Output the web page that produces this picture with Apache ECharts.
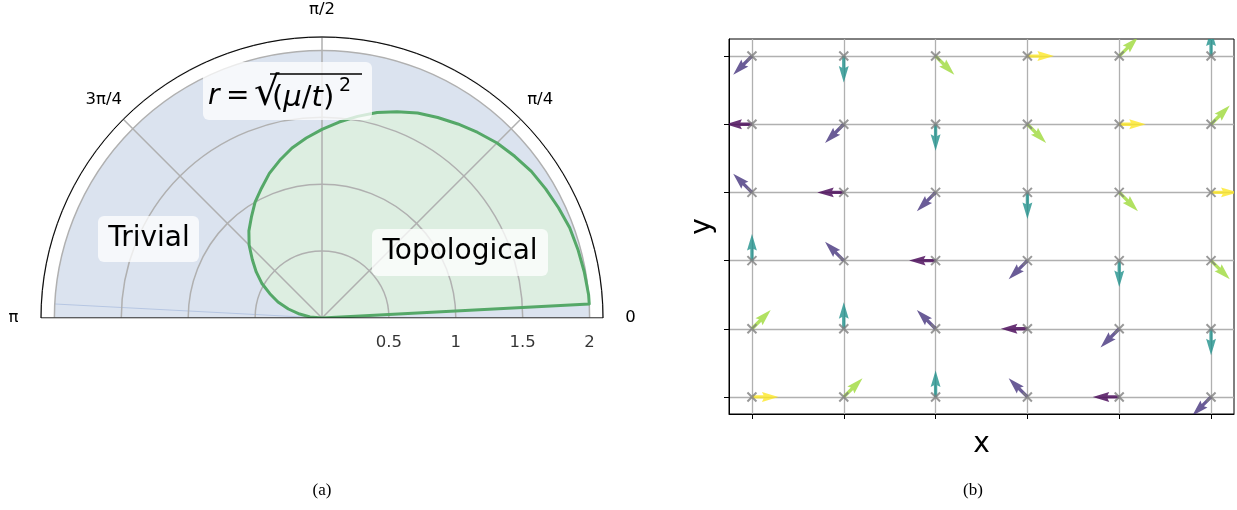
<!DOCTYPE html>
<html><head><meta charset="utf-8">
<script src="https://cdn.jsdelivr.net/npm/echarts@6/dist/echarts.min.js"></script>
<style>html,body{margin:0;padding:0;background:#fff}#c{width:1237px;height:510px}</style>
</head><body><div id="c"></div>
<script>
// ---------- Panel (a): polar phase diagram ----------
const angleTicks = [0, 45, 90, 135, 180];
const angleTickLabels = ['0', 'π/4', 'π/2', '3π/4', 'π'];
const radiusTicks = [0.5, 1, 1.5, 2];
const radiusTickLabels = ['0.5', '1', '1.5', '2'];
const radiusMax = 2.1;
const trivialRadius = [2];
// boundary of the topological region (angle in degrees, radius)
const boundaryAngles = [3, 3, 5, 10, 15, 20, 25, 30, 35, 40, 45, 50, 55, 60, 65, 70, 75, 80, 85, 90,
  95, 100, 105, 110, 115, 120, 125, 130, 135, 140, 145, 150, 155, 160, 165, 170, 175, 180];
const boundaryRadii = [0, 2.00, 2.00, 1.99, 1.98, 1.97, 1.95, 1.93, 1.91, 1.88, 1.85, 1.81, 1.77, 1.73, 1.69, 1.64, 1.59, 1.53, 1.47, 1.41,
  1.35, 1.29, 1.22, 1.15, 1.07, 1.00, 0.92, 0.85, 0.77, 0.68, 0.60, 0.52, 0.43, 0.35, 0.26, 0.17, 0.09, 0];
const faintEdgeAngles = [177, 177];
const faintEdgeRadii = [2, 0];

// ---------- Panel (b): quiver ----------
const gridX = [0, 1, 2, 3, 4, 5];
const gridY = [0, 1, 2, 3, 4, 5];
// arrow direction (degrees), rows from bottom (y=0) to top (y=5)
const arrowAngles = [
  [0, 45, 90, 135, 180, 225],
  [45, 90, 135, 180, 225, 270],
  [90, 135, 180, 225, 270, 315],
  [135, 180, 225, 270, 315, 0],
  [180, 225, 270, 315, 0, 45],
  [225, 270, 315, 0, 45, 90]
];

const colorByAngle = {0:'#fde725',45:'#9ed93a',90:'#21918c',135:'#45337d',180:'#440154',225:'#45337d',270:'#21918c',315:'#9ed93a'};
const FONT = 'DejaVu Sans';
const TICK_FS = 16.5;
const labelRadius = radiusMax * 1.098;

const boundaryData = boundaryAngles.map((a, i) => [boundaryRadii[i], a]);
const quiverData = [];
gridY.forEach((y, j) => gridX.forEach((x, i) => quiverData.push([x, y, arrowAngles[j][i]])));
const markerData = [];
gridY.forEach(y => gridX.forEach(x => markerData.push([x, y])));

function renderArrow(params, api) {
  const p = api.coord([api.value(0), api.value(1)]);
  const ang = api.value(2);
  const a = ang * Math.PI / 180;
  const L = 26.5, w = 3.3, hl = 5 * w, hal = 4.5 * w, hw = 1.5 * w;
  const local = [[0, -w/2], [L - hal, -w/2], [L - hl, -hw], [L, 0], [L - hl, hw], [L - hal, w/2], [0, w/2]];
  const c = Math.cos(a), s = Math.sin(a);
  const pts = local.map(([u, v]) => [p[0] + u * c + v * s, p[1] - u * s + v * c]);
  return { type: 'polygon', shape: { points: pts }, style: { fill: colorByAngle[ang], opacity: 0.8 } };
}

const staticGraphics = [
  { type: 'rect', z: 10, shape: { x: 203, y: 62, width: 169, height: 58, r: 6 }, style: { fill: 'rgba(255,255,255,0.75)' } },
  { type: 'text', z: 11, style: { x: 208, y: 97, text: 'r', fontStyle: 'italic', fontSize: 28, fontFamily: FONT, fill: '#000', verticalAlign: 'middle' } },
  { type: 'text', z: 11, style: { x: 226, y: 97, text: '=', fontSize: 28, fontFamily: FONT, fill: '#000', verticalAlign: 'middle' } },
  { type: 'text', z: 11, style: { x: 254, y: 95, text: '√', fontSize: 40, fontFamily: FONT, fill: '#000', verticalAlign: 'middle' } },
  { type: 'line', z: 11, shape: { x1: 270, y1: 74, x2: 362, y2: 74 }, style: { stroke: '#000', lineWidth: 1.5 } },
  { type: 'text', z: 11, style: { x: 272, y: 98, text: '({i|μ}/{i|t})', rich: { i: { fontStyle: 'italic', fontSize: 29, fontFamily: FONT } }, fontSize: 29, fontFamily: FONT, fill: '#000', verticalAlign: 'middle' } },
  { type: 'text', z: 11, style: { x: 339, y: 86, text: '2', fontSize: 19, fontFamily: FONT, fill: '#000', verticalAlign: 'middle' } },
  { type: 'rect', z: 10, shape: { x: 98, y: 216, width: 101, height: 46, r: 6 }, style: { fill: 'rgba(255,255,255,0.75)' } },
  { type: 'text', z: 11, style: { x: 149, y: 239, text: 'Trivial', fontSize: 28, fontFamily: FONT, fill: '#000', align: 'center', verticalAlign: 'middle' } },
  { type: 'rect', z: 10, shape: { x: 372, y: 229, width: 176, height: 47, r: 6 }, style: { fill: 'rgba(255,255,255,0.75)' } },
  { type: 'text', z: 11, style: { x: 460, y: 252, text: 'Topological', fontSize: 28, fontFamily: FONT, fill: '#000', align: 'center', verticalAlign: 'middle' } },
  { type: 'text', style: { x: 322, y: 491, text: '(a)', fontSize: 17, fontFamily: 'Liberation Serif', fill: '#000', align: 'center', verticalAlign: 'middle' } },
  { type: 'text', style: { x: 973, y: 491, text: '(b)', fontSize: 17, fontFamily: 'Liberation Serif', fill: '#000', align: 'center', verticalAlign: 'middle' } }
];

const chart = echarts.init(document.getElementById('c'), null, { renderer: 'canvas' });
chart.setOption({
  animation: false,
  backgroundColor: '#fff',
  textStyle: { fontFamily: FONT },
  polar: { center: [322, 318], radius: 281 },
  angleAxis: {
    type: 'value', min: 0, max: 180, interval: 45, startAngle: 0, endAngle: 180, clockwise: false, z: 3,
    axisLine: { show: true, lineStyle: { color: '#000', width: 1 } },
    axisTick: { show: false },
    axisLabel: { show: false },
    splitLine: { show: true, lineStyle: { color: '#b0b0b0', width: 1.5 } }
  },
  radiusAxis: {
    type: 'value', min: 0, max: radiusMax, interval: 0.5, z: 3,
    axisLine: { show: false }, axisTick: { show: false }, axisLabel: { show: false },
    splitLine: { show: true, lineStyle: { color: '#b0b0b0', width: 1.5 } }
  },
  grid: { left: 729, top: 39, width: 505, height: 375, show: true, borderColor: '#000', borderWidth: 1, backgroundColor: 'rgba(0,0,0,0)' },
  xAxis: {
    type: 'value', min: -0.25, max: 5.25,
    axisLine: { show: true, onZero: false, lineStyle: { color: '#000', width: 1 } },
    axisTick: { show: true, customValues: gridX, length: 5, lineStyle: { color: '#000', width: 1 } },
    axisLabel: { show: true, customValues: gridX, formatter: () => '' },
    splitLine: { show: true, lineStyle: { color: '#b0b0b0', width: 1.3 } },
    name: 'x', nameLocation: 'middle', nameGap: 17,
    nameTextStyle: { fontSize: 28, fontFamily: FONT, color: '#000' }
  },
  yAxis: {
    type: 'value', min: -0.25, max: 5.25,
    axisLine: { show: true, onZero: false, lineStyle: { color: '#000', width: 1 } },
    axisTick: { show: true, customValues: gridY, length: 5, lineStyle: { color: '#000', width: 1 } },
    axisLabel: { show: true, customValues: gridY, formatter: () => '' },
    splitLine: { show: true, lineStyle: { color: '#b0b0b0', width: 1.3 } },
    name: 'y', nameLocation: 'middle', nameGap: 12,
    nameTextStyle: { fontSize: 28, fontFamily: FONT, color: '#000' }
  },
  series: [
    { type: 'custom', coordinateSystem: 'polar', z: 1, silent: true,
      data: trivialRadius.map(r => [r, 90]),
      renderItem: function (params, api) {
        const cs = params.coordSys;
        const p = api.coord([api.value(0), 0]);
        const r = Math.hypot(p[0] - cs.cx, p[1] - cs.cy);
        return { type: 'sector', shape: { cx: cs.cx, cy: cs.cy, r0: 0, r: r, startAngle: -Math.PI, endAngle: 0, clockwise: true },
          style: { fill: '#dbe3ef' } };
      } },
    { type: 'line', coordinateSystem: 'polar', z: 2, silent: true, symbol: 'none',
      data: faintEdgeAngles.map((a, i) => [faintEdgeRadii[i], a]),
      lineStyle: { color: '#b6c6e2', width: 1 } },
    { type: 'line', coordinateSystem: 'polar', z: 2, silent: true, symbol: 'none',
      data: boundaryData, lineStyle: { width: 0 }, areaStyle: { color: '#ddeee1', opacity: 1 } },
    { type: 'line', coordinateSystem: 'polar', z: 5, silent: true, symbol: 'none',
      data: boundaryData, lineStyle: { color: '#55a868', width: 3, join: 'round' } },
    { type: 'line', coordinateSystem: 'polar', z: 6, silent: true, symbol: 'none',
      data: [[radiusMax, 0], [0, 0], [radiusMax, 180]], lineStyle: { color: '#000', width: 1 } },
    { type: 'scatter', coordinateSystem: 'polar', z: 6, silent: true, symbolSize: 0,
      data: radiusTicks.map((r, i) => ({ value: [r, 0], name: radiusTickLabels[i] })),
      label: { show: true, position: 'bottom', distance: 16, formatter: p => p.name, fontSize: TICK_FS, fontFamily: FONT, color: '#000' } },
    { type: 'custom', coordinateSystem: 'cartesian2d', clip: true, z: 3, silent: true,
      data: quiverData, renderItem: renderArrow },
    { type: 'scatter', coordinateSystem: 'cartesian2d', z: 4, silent: true,
      data: markerData, symbol: 'path://M0,0L10,10M10,0L0,10', symbolSize: 9,
      itemStyle: { color: 'rgba(0,0,0,0)', borderColor: '#7f7f7f', borderWidth: 2 } }
  ],
  graphic: staticGraphics
});

// angle tick labels placed through the polar scale (just outside the outer arc)
const angleLabelGraphics = angleTicks.map((a, i) => {
  const p = chart.convertToPixel({ seriesIndex: 3 }, [labelRadius, a]);
  return { type: 'text', z: 11, style: { x: p[0], y: p[1], text: angleTickLabels[i], fontSize: TICK_FS, fontFamily: FONT, fill: '#000', align: 'center', verticalAlign: 'middle' } };
});
chart.setOption({ graphic: staticGraphics.concat(angleLabelGraphics) });
</script></body></html>
